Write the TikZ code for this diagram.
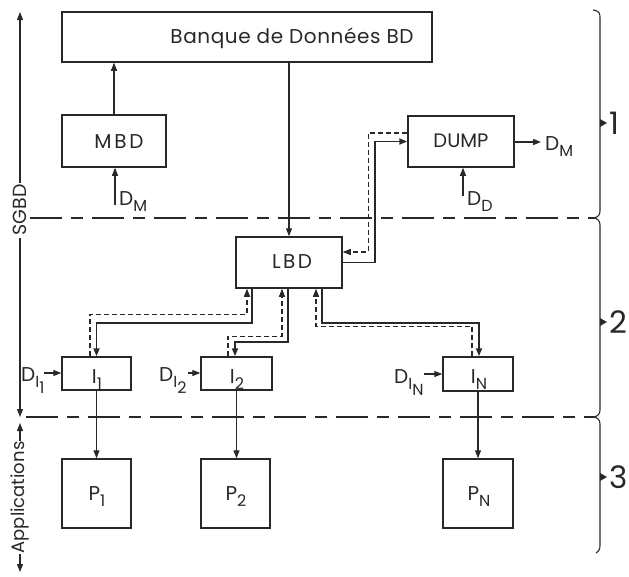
\documentclass[tikz,border=0pt]{standalone}
\usepackage{fontspec}
\setmainfont{Poppins}
\usetikzlibrary{arrows.meta}
\definecolor{ink}{RGB}{40,40,40}
\newcommand{\sbx}[1]{\lower6pt\hbox{\fontsize{16pt}{16pt}\selectfont #1}}
\tikzset{
 box/.style={draw=ink, line width=1.5pt, inner sep=0pt},
 txt/.style={inner sep=0pt, text=ink, font=\fontsize{20pt}{20pt}\selectfont},
 btxt/.style={inner sep=0pt, anchor=base, text=ink, font=\fontsize{20pt}{20pt}\selectfont},
 lbl/.style={inner sep=0pt, anchor=base west, text=ink, font=\fontsize{20pt}{20pt}\selectfont},
 big/.style={inner sep=0pt, anchor=west, text=ink, font=\fontsize{31pt}{31pt}\selectfont},
 arr/.style={draw=ink, line width=1.1pt, -{Triangle[length=8pt,width=6pt]}},
 thickarr/.style={draw=ink, line width=1.9pt, -{Triangle[length=8pt,width=6pt]}},
 dasharr/.style={draw=ink, line width=1.1pt, dash pattern=on 5pt off 3pt, -{Triangle[length=8pt,width=6pt]}},
 dblarr/.style={draw=ink, line width=1.1pt, {Triangle[length=8pt,width=6pt]}-{Triangle[length=8pt,width=6pt]}},
 sep/.style={draw=ink, line width=1.1pt, dash pattern=on 32pt off 9pt on 12pt off 9pt},
 brace/.style={draw=ink, line width=1.1pt},
}
\begin{document}
\begin{tikzpicture}[x=1pt,y=-1pt]
\useasboundingbox (0,0) rectangle (629,576);
% separators
\coordinate (s1l) at (30,218); \coordinate (s1r) at (594,218);
\coordinate (s2l) at (26,417); \coordinate (s2r) at (594,417);
\draw[sep] (s1l) -- (s1r);
\draw[sep] (s2l) -- (s2r);
% boxes
\node[box, minimum width=370pt, minimum height=50pt] (bd) at (247,37) {};
\node[txt] (bdt) at (292,38) {\addfontfeature{LetterSpace=3}Banque de Données BD};
\node[box, minimum width=104pt, minimum height=52pt] (mbd) at (114,141) {};
\node[txt] (mbdt) at (119,142) {\addfontfeature{LetterSpace=14}MBD};
\node[box, minimum width=106pt, minimum height=51pt] (dump) at (461,141.5) {};
\node[txt, font=\fontsize{19.5pt}{19.5pt}\selectfont] (dumpt) at (461,141) {DUMP};
\node[box, minimum width=106pt, minimum height=51pt] (lbd) at (289,262.5) {};
\node[txt] (lbdt) at (292,262) {\addfontfeature{LetterSpace=12}LBD};
\node[box, minimum width=69pt, minimum height=33pt] (i1) at (96.5,373.5) {};
\node[box, minimum width=71pt, minimum height=33pt] (i2) at (236.5,373.5) {};
\node[box, minimum width=70pt, minimum height=34pt] (iN) at (478,374) {};
\node[btxt] (i1t) at (97,383) {I\sbx{1}};
\node[btxt] (i2t) at (237,383) {I\sbx{2}};
\node[btxt] (iNt) at (479,383) {I\sbx{N}};
\node[box, minimum width=69pt, minimum height=69pt] (p1) at (96.5,493.5) {};
\node[box, minimum width=69pt, minimum height=69pt] (p2) at (235.5,493.5) {};
\node[box, minimum width=70pt, minimum height=69pt] (pN) at (478,493.5) {};
\node[btxt] (p1t) at (97,500) {P\sbx{1}};
\node[btxt] (p2t) at (236,500) {P\sbx{2}};
\node[btxt] (pNt) at (479,500) {P\sbx{N}};
% labels
\node[lbl] (ldm1) at (119,205) {D\sbx{M}};
\node[lbl] (ldm2) at (545,150) {D\sbx{M}};
\node[lbl] (ldd) at (467,205) {D\sbx{D}};
\node[lbl] (ldi1) at (21,381) {D\sbx{I\sbx{1}}};
\node[lbl] (ldi2) at (159,381) {D\sbx{I\sbx{2}}};
\node[lbl] (ldin) at (394,383) {D\sbx{I\sbx{N}}};
% simple connectors
\draw[arr] (mbd.north) -- (mbd.north |- bd.south);
\draw[arr] (bd.south -| lbd.north) -- (lbd.north);
\coordinate (dm1s) at (115,205);
\draw[arr] (dm1s) -- (dm1s |- mbd.south);
\coordinate (dmo) at (541,142);
\draw[draw=ink, line width=1.6pt, -{Triangle[length=8pt,width=6pt]}] (dump.east |- dmo) -- (dmo);
\coordinate (dds) at (463,196);
\draw[arr] (dds) -- (dds |- dump.south);
% LBD <-> DUMP
\draw[thickarr] (lbd.east) -- ++(32,0) |- (dump.west);
\draw[dasharr] ([yshift=8.5pt]dump.west) -- ++(-39,0) |- ([yshift=10.5pt]lbd.east);
% LBD <-> I1
\draw[thickarr] ([xshift=-37pt]lbd.south) -- ++(0,34) -| (i1.north);
\draw[dasharr] ([xshift=-6.5pt]i1.north) -- ++(0,-42) -| ([xshift=-42pt]lbd.south);
% LBD <-> I2
\draw[thickarr] ([xshift=-1pt]lbd.south) -- ++(0,53) -| ([xshift=-1.5pt]i2.north);
\draw[dasharr] ([xshift=-8.5pt]i2.north) -- ++(0,-20) -| ([xshift=-7pt]lbd.south);
% LBD <-> IN
\draw[thickarr] ([xshift=33pt]lbd.south) -- ++(0,34) -| ([xshift=1pt]iN.north);
\draw[dasharr] ([xshift=-6pt]iN.north) -- ++(0,-30) -| ([xshift=27pt]lbd.south);
% I -> P
\draw[arr] (i1.south) -- (p1.north);
\draw[arr] (i2.south) -- (i2.south |- p2.north);
\draw[arr] (iN.south) -- (pN.north);
% inputs
\coordinate (di1) at (44,373); \coordinate (di2) at (188,373); \coordinate (din) at (424,374);
\draw[arr] (di1) -- (di1 -| i1.west);
\draw[arr] (di2) -- (di2 -| i2.west);
\draw[arr] (din) -- (din -| iN.west);
% left arrows
\coordinate (sgt) at (20,12); \coordinate (sgb) at (20,417);
\draw[dblarr] (sgt) -- (sgb) node[pos=0.489, fill=white, rotate=90, inner sep=2pt, text=ink, font=\fontsize{19pt}{19pt}\selectfont] (sgbd) {SGBD};
\coordinate (apt) at (20,423); \coordinate (apb) at (20,572);
\draw[dblarr] (apt) -- (apb) node[pos=0.5, fill=white, rotate=90, inner sep=1pt, text=ink, font=\fontsize{18pt}{18pt}\selectfont] (appl) {Applications};
% braces
\draw[brace] (593,10) .. controls (600,11) and (600,14) .. (600,18) -- (600,211) .. controls (600,215) and (598,217) .. (594,218);
\draw[brace] (594,218) .. controls (598,219) and (600,221) .. (600,225) -- (600,410) .. controls (600,414) and (598,416) .. (594,417);
\draw[brace] (594,417) .. controls (598,418) and (600,420) .. (600,424) -- (600,545) .. controls (600,549) and (599,551) .. (596,553);
\fill[ink] (600,119) -- (607,123) -- (600,127) -- cycle;
\fill[ink] (600,318) -- (607,322) -- (600,326) -- cycle;
\fill[ink] (600,473) -- (607,477) -- (600,481) -- cycle;
\node[big] (n1) at (609,123) {1};
\node[big] (n2) at (609,322) {2};
\node[big] (n3) at (609,477) {3};
\end{tikzpicture}
\end{document}
